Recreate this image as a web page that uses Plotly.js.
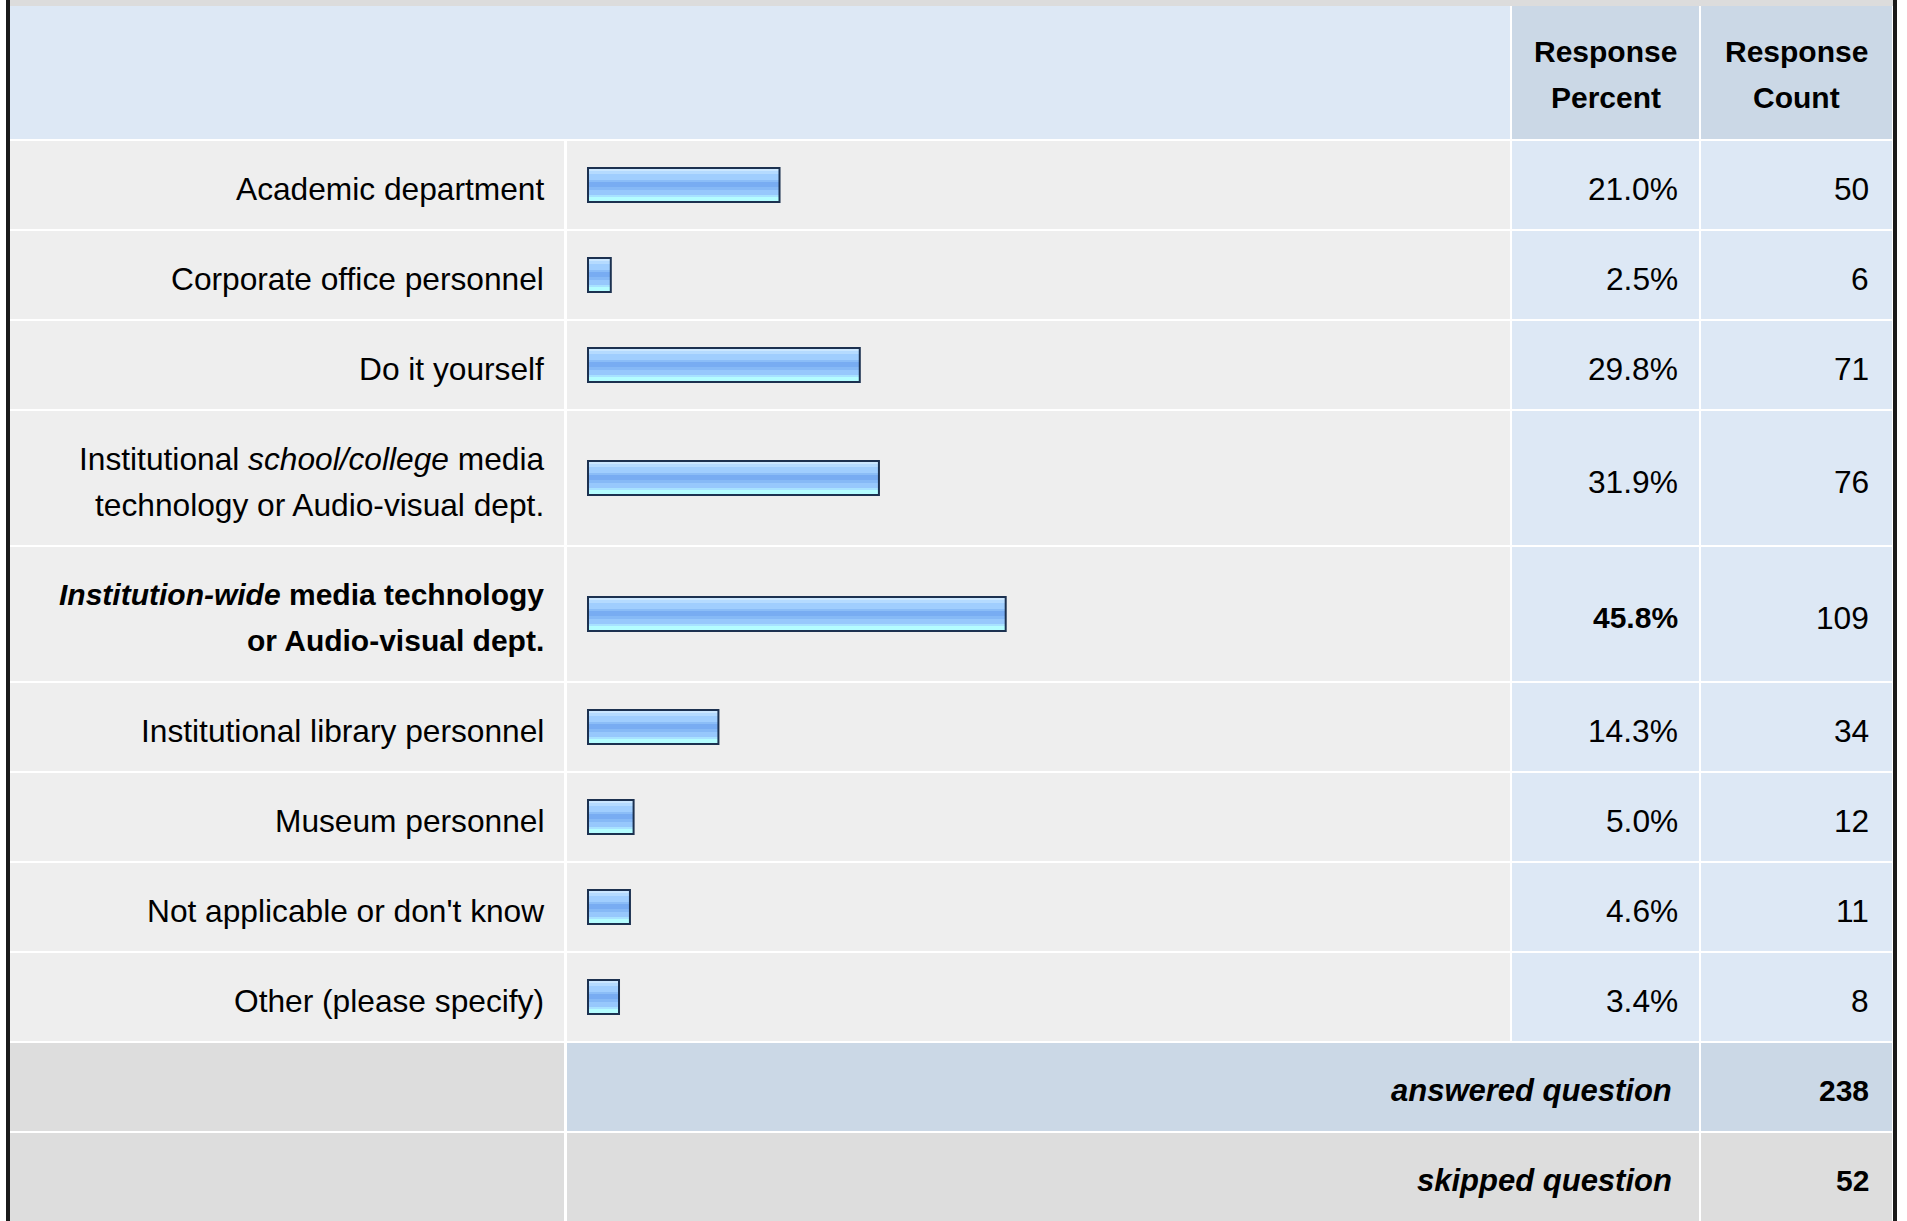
<!DOCTYPE html>
<html><head><meta charset="utf-8">
<script src="https://cdn.plot.ly/plotly-3.0.1.min.js"></script>
<style>html,body{margin:0;padding:0;background:#fff;overflow:hidden}</style>
</head><body><div id="chart" style="width:1907px;height:1221px"></div>
<script>
// ---------- data ----------
const categories = [
  "Academic department",
  "Corporate office personnel",
  "Do it yourself",
  "Institutional <i>school/college</i> media<br>technology or Audio-visual dept.",
  "<i>Institution-wide</i> media technology<br>or Audio-visual dept.",
  "Institutional library personnel",
  "Museum personnel",
  "Not applicable or don't know",
  "Other (please specify)"
];
const responsePercent = [21.0, 2.5, 29.8, 31.9, 45.8, 14.3, 5.0, 4.6, 3.4];
const responseCount = [50, 6, 71, 76, 109, 34, 12, 11, 8];
const highlighted = [false, false, false, false, true, false, false, false, false];
const headerLabels = ["Response<br>Percent", "Response<br>Count"];
const summaryLabels = ["answered question", "skipped question"];
const summaryValues = [238, 52];

// ---------- layout constants (pixels) ----------
const W = 1907, H = 1221;
const PX_PER_PCT = 9.12, BAR_X0 = 588;
const colL = 10, labelR = 564, barL = 567, barR = 1510, pctL = 1512, pctR = 1699, cntL = 1701, cntR = 1892;
const headerTop = 6, headerH = 133, gap = 2, lineH = 46, singleH = 88, perLine = 46;
const FONT = "Liberation Sans, Arial, Helvetica, sans-serif";
const FS = 31.7, FSB = 30, FSBI = 31;
const C = {
  strip: "#dcdcdc", border: "#1a1a1a", head: "#dde8f5", headDark: "#cbd8e6",
  row: "#eeeeee", cell: "#dde8f5", ansRow: "#cbd8e6", grey: "#dddddd"
};

// ---------- geometry of rows ----------
const lines = categories.map(c => c.split("<br>"));
const rowTop = [], rowBot = [];
let y = headerTop + headerH + gap;
lines.forEach(l => {
  const h = singleH + (l.length - 1) * perLine;
  rowTop.push(y); rowBot.push(y + h); y += h + gap;
});
const sumTop = [], sumBot = [];
summaryLabels.forEach(() => { sumTop.push(y); sumBot.push(y + singleH); y += singleH + gap; });
const rowCenter = rowTop.map((t, i) => (t + rowBot[i]) / 2);

const px = v => v / W;
const shapes = [];
function rect(x0, x1, y0, y1, color) {
  shapes.push({type: "rect", xref: "paper", yref: "y", x0: px(x0), x1: px(x1), y0: y0, y1: y1,
    fillcolor: color, line: {width: 0}, layer: "below"});
}
// top strip and borders
rect(colL, cntR + 1, 0, headerTop, C.strip);
rect(6, colL, 0, H, C.border);
rect(cntR + 1, cntR + 5, 0, H, C.border);
// header
rect(colL, barR, headerTop, headerTop + headerH, C.head);
rect(pctL, pctR, headerTop, headerTop + headerH, C.headDark);
rect(cntL, cntR, headerTop, headerTop + headerH, C.headDark);
// rows
rowTop.forEach((t, i) => {
  const b = rowBot[i];
  rect(colL, labelR, t, b, C.row);
  rect(barL, barR, t, b, C.row);
  rect(pctL, pctR, t, b, C.cell);
  rect(cntL, cntR, t, b, C.cell);
});
// summary rows
const sumColors = [C.ansRow, C.grey];
sumTop.forEach((t, i) => {
  const b = sumBot[i];
  rect(colL, labelR, t, b, C.grey);
  rect(barL, pctR, t, b, sumColors[i]);
  rect(cntL, cntR, t, b, sumColors[i]);
});

// ---------- annotations ----------
const ann = [];
function txt(x, yy, text, anchor, size) {
  ann.push({xref: "paper", yref: "y", x: px(x), y: yy, text: text, showarrow: false,
    xanchor: anchor, yanchor: "middle", font: {family: FONT, size: size, color: "#000"}});
}
const TY = 3.5;
// header
headerLabels.forEach((h, j) => {
  const parts = h.split("<br>");
  const cx = j === 0 ? (pctL + pctR) / 2 : (cntL + cntR) / 2;
  const c = headerTop + headerH / 2;
  parts.forEach((p, k) => txt(cx, c + (k - (parts.length - 1) / 2) * lineH + 2, "<b>" + p + "</b>", "center", FSB));
});
// rows
lines.forEach((l, i) => {
  const c = rowCenter[i];
  l.forEach((p, k) => {
    const t = highlighted[i] ? "<b>" + p + "</b>" : p;
    txt(labelR - 18, c + (k - (l.length - 1) / 2) * lineH + TY, t, "right", highlighted[i] ? FSB : FS);
  });
  const pt = responsePercent[i].toFixed(1) + "%";
  txt(pctR - 19, c + TY, highlighted[i] ? "<b>" + pt + "</b>" : pt, "right", highlighted[i] ? FSB : FS);
  txt(cntR - 21, c + TY, String(responseCount[i]), "right", FS);
});
summaryLabels.forEach((s, i) => {
  const c = (sumTop[i] + sumBot[i]) / 2;
  txt(pctR - 25, c + TY, "<b><i>" + s + "</i></b>", "right", FSBI);
  txt(cntR - 21, c + TY, "<b>" + summaryValues[i] + "</b>", "right", FSB);
});

// ---------- bars (glossy gradient built from bands) ----------
const bands = [
  [-16, 2, "#cbe7ff"], [-14, 3, "#b5dbff"], [-11, 6, "#a0cefe"], [-5, 2, "#8bbdf7"],
  [-3, 5, "#78acf2"], [2, 3, "#86b9f6"], [5, 5, "#97c8fc"], [10, 2, "#a8e2ff"], [12, 4, "#b4fdff"]
];
const traces = bands.map(b => ({
  type: "bar", orientation: "h", x: responsePercent, y: rowCenter,
  offset: b[0], width: b[1], marker: {color: b[2], line: {width: 0}},
  hoverinfo: "skip", showlegend: false
}));
traces.push({
  type: "bar", orientation: "h", x: responsePercent, y: rowCenter,
  offset: -17, width: 34, marker: {color: "rgba(0,0,0,0)", line: {color: "#1c3150", width: 2}},
  hoverinfo: "skip", showlegend: false
});

const layout = {
  width: W, height: H, autosize: false,
  margin: {l: 0, r: 0, t: 0, b: 0, pad: 0},
  paper_bgcolor: "#ffffff", plot_bgcolor: "rgba(0,0,0,0)",
  barmode: "overlay", showlegend: false,
  xaxis: {range: [-BAR_X0 / PX_PER_PCT, (W - BAR_X0) / PX_PER_PCT], visible: false, fixedrange: true, domain: [0, 1]},
  yaxis: {range: [H, 0], visible: false, fixedrange: true, domain: [0, 1]},
  shapes: shapes, annotations: ann
};
Plotly.newPlot("chart", traces, layout, {displayModeBar: false, staticPlot: true});
</script>
</body></html>
